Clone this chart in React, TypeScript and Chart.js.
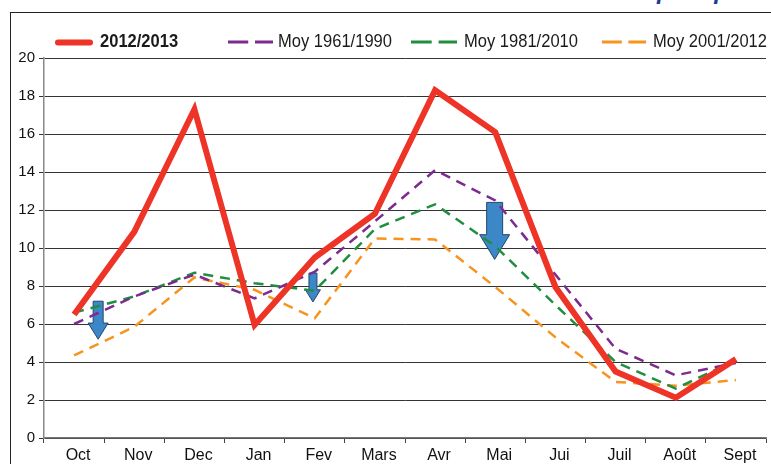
import { useEffect, useRef } from 'react';
import { Chart, registerables } from 'chart.js';

Chart.register(...registerables);

const months = ['Oct', 'Nov', 'Dec', 'Jan', 'Fev', 'Mars', 'Avr', 'Mai', 'Jui', 'Juil', 'Août', 'Sept'];
const season2012 = [6.5, 10.85, 17.3, 5.95, 9.5, 11.8, 18.3, 16.1, 7.95, 3.5, 2.12, 4.15];
const moy1961 = [6.0, 7.45, 8.6, 7.35, 8.75, 11.4, 14.1, 12.5, 8.6, 4.7, 3.3, 3.95];
const moy1981 = [6.6, 7.45, 8.7, 8.15, 7.75, 11.0, 12.3, 10.1, 7.0, 4.0, 2.6, 4.1];
const moy2001 = [4.35, 5.85, 8.45, 7.8, 6.3, 10.5, 10.45, 7.95, 5.3, 2.95, 2.75, 3.05];
const seriesLabels = ['2012/2013', 'Moy 1961/1990', 'Moy 1981/2010', 'Moy 2001/2012'];

// arrow annotations (category index, value at top, value where head starts, value at tip)
const arrowMonth = [0.4, 3.97, 6.99];
const arrowTop = [7.2, 8.68, 12.4];
const arrowHead = [6.05, 7.8, 10.7];
const arrowTip = [5.2, 7.16, 9.4];

const FAMILY = "'Liberation Sans', Arial, sans-serif";
const arrowShaft = [10, 8, 16];
const arrowHeadW = [20, 15, 30];
const legendPos = [
  { x0: 55, x1: 93, tx: 100 },
  { x0: 228, x1: 273, tx: 278 },
  { x0: 411, x1: 457, tx: 464 },
  { x0: 602, x1: 646, tx: 653 },
];

const arrowPlugin = {
  id: 'arrows',
  beforeDatasetsDraw(chart: any) {
    const ctx = chart.ctx;
    const xs = chart.scales.x;
    const ys = chart.scales.y;
    arrowMonth.forEach((m, i) => {
      const cx = xs.getPixelForValue(m);
      const yT = ys.getPixelForValue(arrowTop[i]);
      const yH = ys.getPixelForValue(arrowHead[i]);
      const yP = ys.getPixelForValue(arrowTip[i]);
      const sw = arrowShaft[i] / 2;
      const hw = arrowHeadW[i] / 2;
      ctx.save();
      ctx.beginPath();
      ctx.moveTo(cx - sw, yT);
      ctx.lineTo(cx + sw, yT);
      ctx.lineTo(cx + sw, yH);
      ctx.lineTo(cx + hw, yH);
      ctx.lineTo(cx, yP);
      ctx.lineTo(cx - hw, yH);
      ctx.lineTo(cx - sw, yH);
      ctx.closePath();
      ctx.fillStyle = '#3b87c8';
      ctx.fill();
      ctx.strokeStyle = '#26476b';
      ctx.lineWidth = 1;
      ctx.stroke();
      ctx.restore();
    });
  },
};

const legendPlugin = {
  id: 'customLegend',
  afterDraw(chart: any) {
    const ctx = chart.ctx;
    chart.data.datasets.forEach((ds: any, i: number) => {
      const p = legendPos[i];
      const bold = i === 0;
      ctx.save();
      ctx.strokeStyle = ds.borderColor;
      if (bold) {
        ctx.lineWidth = 6;
        ctx.lineCap = 'round';
        ctx.beginPath();
        ctx.moveTo(p.x0 + 3, 42.5);
        ctx.lineTo(p.x1 - 3, 42.5);
        ctx.stroke();
      } else {
        ctx.lineWidth = 3;
        ctx.lineCap = 'butt';
        const mid1 = p.x0 + (p.x1 - p.x0) * 0.45;
        const mid2 = p.x0 + (p.x1 - p.x0) * 0.6;
        ctx.beginPath();
        ctx.moveTo(p.x0, 42);
        ctx.lineTo(mid1, 42);
        ctx.moveTo(mid2, 42);
        ctx.lineTo(p.x1, 42);
        ctx.stroke();
      }
      ctx.fillStyle = '#1a1a1a';
      ctx.font = `${bold ? 'bold ' : ''}19px ${FAMILY}`;
      ctx.textBaseline = 'alphabetic';
      ctx.textAlign = 'left';
      ctx.translate(p.tx, 47);
      ctx.scale(0.87, 1);
      ctx.fillText(ds.label, 0, 0);
      ctx.restore();
    });
  },
};

export default function App() {
  const ref = useRef<HTMLCanvasElement>(null);
  useEffect(() => {
    document.body.style.margin = '0';
    const dash = [10, 7];
    const chart = new Chart(ref.current as HTMLCanvasElement, {
      type: 'line',
      data: {
        labels: months,
        datasets: [
          { label: seriesLabels[0], data: season2012, borderColor: '#ee3327', borderWidth: 6, pointRadius: 0, tension: 0, borderJoinStyle: 'miter', fill: false },
          { label: seriesLabels[1], data: moy1961, borderColor: '#7d2b8e', borderWidth: 2.5, borderDash: dash, pointRadius: 0, tension: 0, fill: false },
          { label: seriesLabels[2], data: moy1981, borderColor: '#1f8f3f', borderWidth: 2.5, borderDash: dash, pointRadius: 0, tension: 0, fill: false },
          { label: seriesLabels[3], data: moy2001, borderColor: '#f7941e', borderWidth: 2.5, borderDash: dash, pointRadius: 0, tension: 0, fill: false },
        ],
      },
      options: {
        animation: false,
        responsive: false,
        maintainAspectRatio: false,
        layout: { padding: { top: 58, right: 5, left: 0, bottom: 0 } },
        plugins: { legend: { display: false }, tooltip: { enabled: false } },
        scales: {
          x: {
            offset: true,
            grid: { offset: true, drawOnChartArea: false, tickLength: 5, color: '#444', lineWidth: 1 },
            border: { color: '#777', width: 1.5 },
            ticks: { color: '#111', font: { family: FAMILY, size: 16 }, padding: 3, labelOffset: 4, maxRotation: 0, autoSkip: false },
            afterFit(s: any) { s.height = 26; },
          },
          y: {
            min: 0,
            max: 20,
            grid: { color: '#333', lineWidth: 1, tickLength: 5 },
            border: { color: '#888', width: 1.5 },
            ticks: { stepSize: 2, color: '#111', font: { family: FAMILY, size: 15 }, padding: 4 },
            afterFit(s: any) { s.width = 44; },
          },
        },
      },
      plugins: [arrowPlugin, legendPlugin],
    } as any);
    return () => chart.destroy();
  }, []);

  return (
    <div style={{ position: 'absolute', left: 0, top: 0, width: 771, height: 464, overflow: 'hidden', background: '#fff' }}>
      <div style={{ position: 'absolute', left: 657, top: -21, fontFamily: "'Liberation Sans', Arial, sans-serif", fontWeight: 'bold', fontStyle: 'italic', fontSize: 24, lineHeight: '24px', color: '#1d3c8f', whiteSpace: 'nowrap' }}>précipitations</div>
      <div style={{ position: 'absolute', left: 10, top: 12, width: 900, height: 600, border: '1px solid #222', boxSizing: 'border-box' }} />
      <canvas ref={ref} width={771} height={464} style={{ position: 'absolute', left: 0, top: 0, width: 771, height: 464 }} />
    </div>
  );
}
